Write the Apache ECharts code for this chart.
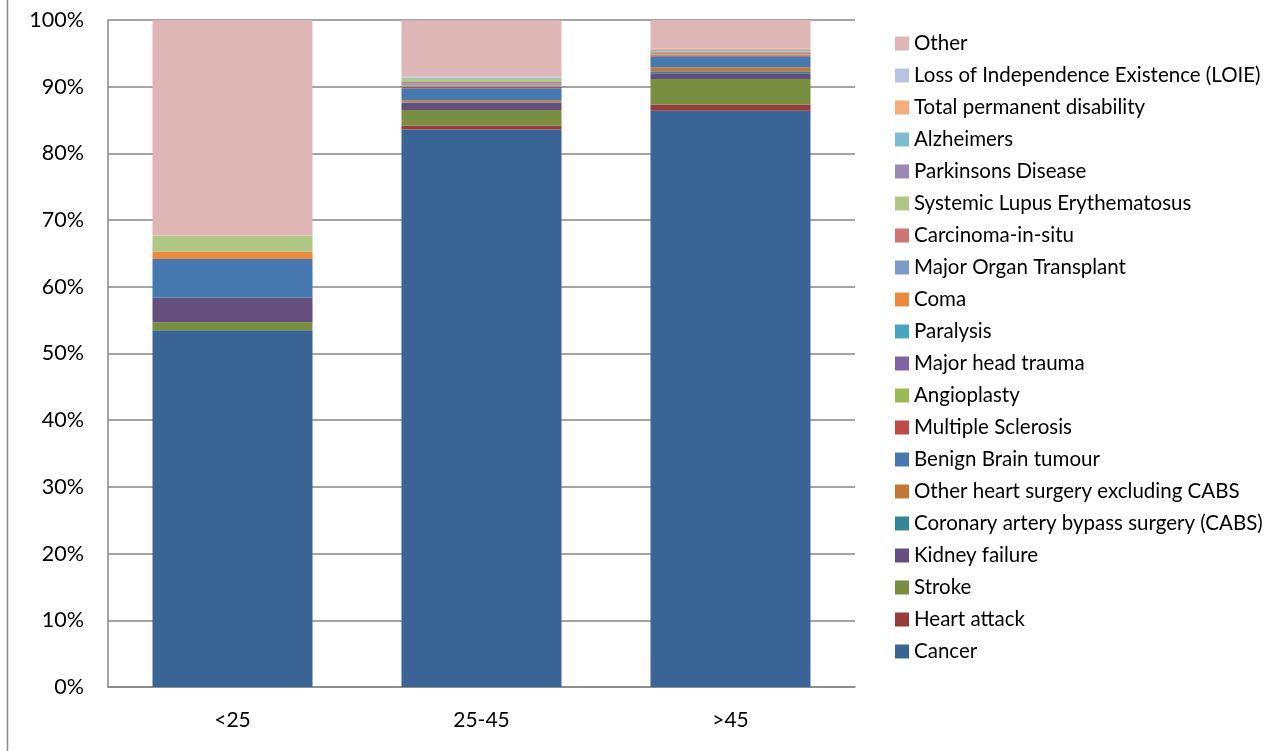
<!DOCTYPE html>
<html>
<head>
<meta charset="utf-8">
<script src="https://cdn.jsdelivr.net/npm/echarts@6/dist/echarts.min.js"></script>
<style>
  html, body { margin: 0; padding: 0; background: #fff; }
  #chart { width: 1278px; height: 751px; }
</style>
</head>
<body>
<div id="chart"></div>
<script>
// Age bands on the x axis
const ageBands = ['<25', '25-45', '>45'];

// Share of claims (%) per condition, stacked bottom to top
const cancer          = [53.5, 83.6, 86.4];
const heartAttack     = [0,    0.6,  0.95];
const stroke          = [1.2,  2.3,  3.8];
const kidneyFailure   = [3.65, 1.1,  0.85];
const cabs            = [0,    0.05, 0.3];
const otherHeart      = [0,    0.3,  0.6];
const benignBrain     = [5.8,  1.8,  1.6];
const multipleScler   = [0,    0.25, 0.2];
const angioplasty     = [0,    0.05, 0.05];
const headTrauma      = [0,    0.05, 0.05];
const paralysis       = [0,    0.05, 0.05];
const coma            = [1.15, 0.05, 0.2];
const organTransplant = [0,    0.3,  0.1];
const carcinoma       = [0,    0.2,  0.1];
const lupus           = [2.4,  0.5,  0.05];
const parkinsons      = [0,    0.05, 0.05];
const alzheimers      = [0,    0.05, 0.15];
const permDisability  = [0,    0.05, 0.15];
const loie            = [0,    0.2,  0.05];
const other           = [32.3, 8.4,  4.3];

// Y axis tick labels
const yTicks = ['0%', '10%', '20%', '30%', '40%', '50%', '60%', '70%', '80%', '90%', '100%'];

const seriesDefs = [
  ['Cancer', cancer, '#3B6496'],
  ['Heart attack', heartAttack, '#963C3B'],
  ['Stroke', stroke, '#788F42'],
  ['Kidney failure', kidneyFailure, '#634E7E'],
  ['Coronary artery bypass surgery (CABS)', cabs, '#348698'],
  ['Other heart surgery excluding CABS', otherHeart, '#C47636'],
  ['Benign Brain tumour', benignBrain, '#4878B0'],
  ['Multiple Sclerosis', multipleScler, '#BE4B48'],
  ['Angioplasty', angioplasty, '#98B954'],
  ['Major head trauma', headTrauma, '#7E62A1'],
  ['Paralysis', paralysis, '#48A5BE'],
  ['Coma', coma, '#E98A3F'],
  ['Major Organ Transplant', organTransplant, '#7E9BC8'],
  ['Carcinoma-in-situ', carcinoma, '#CB7675'],
  ['Systemic Lupus Erythematosus', lupus, '#AFC684'],
  ['Parkinsons Disease', parkinsons, '#9A88B5'],
  ['Alzheimers', alzheimers, '#7EBCCF'],
  ['Total permanent disability', permDisability, '#F8AB7B'],
  ['Loss of Independence Existence (LOIE)', loie, '#B7C4DF'],
  ['Other', other, '#DFB6B6']
];

const chart = echarts.init(document.getElementById('chart'), null, { renderer: 'canvas' });
const font = 'Lato, "Open Sans", sans-serif';

chart.setOption({
  animation: false,
  backgroundColor: '#fff',
  grid: { left: 108, right: 423, top: 20, bottom: 64, containLabel: false },
  graphic: [{
    type: 'line',
    shape: { x1: 7.5, y1: 0, x2: 7.5, y2: 751 },
    style: { stroke: '#8a8a8a', lineWidth: 1.5 }
  }],
  legend: {
    orient: 'vertical',
    left: 890,
    top: 28,
    itemWidth: 14,
    itemHeight: 14,
    itemGap: 11,
    icon: 'rect',
    textStyle: { fontFamily: font, fontSize: 20.5, color: '#000', lineHeight: 21 },
    data: seriesDefs.map(d => d[0]).reverse()
  },
  xAxis: {
    type: 'category',
    data: ageBands,
    axisLine: { lineStyle: { color: '#868686', width: 1.5 } },
    axisTick: { show: false },
    axisLabel: { fontFamily: font, fontSize: 21, color: '#000', margin: 23 }
  },
  yAxis: {
    type: 'value',
    min: 0,
    max: 100,
    interval: 10,
    axisLine: { show: true, lineStyle: { color: '#868686', width: 1.5 } },
    axisTick: { show: false },
    splitLine: { lineStyle: { color: '#868686', width: 1.5 } },
    axisLabel: {
      fontFamily: font, fontSize: 21.5, color: '#000', margin: 24,
      formatter: v => yTicks[Math.round(v / 10)]
    }
  },
  series: seriesDefs.map(([name, values, color]) => ({
    name,
    type: 'bar',
    stack: 'share',
    barWidth: 160,
    data: values,
    itemStyle: { color },
    emphasis: { disabled: true }
  }))
});
</script>
</body>
</html>
